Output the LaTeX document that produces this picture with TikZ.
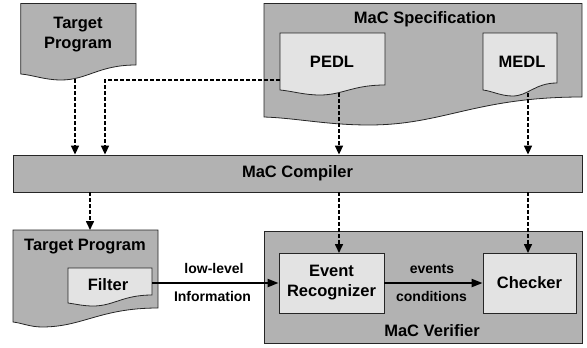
\documentclass[tikz,border=0pt]{standalone}
\usepackage{fontspec}
\setmainfont{Liberation Sans}
\usetikzlibrary{arrows.meta,calc}
\definecolor{outergray}{gray}{0.70}
\definecolor{innergray}{gray}{0.89}
\newcommand{\docpath}[8]{%
 \pgfmathsetmacro{\dpx}{#2+#7*(#4-#2)}%
 \pgfmathsetmacro{\dpy}{#5+#8}%
 \path[#1] (#2,#3) -- (#4,#3) -- (#4,#6)
   .. controls ({\dpx+0.5*(#4-\dpx)},#6) and ({\dpx+0.35*(#4-\dpx)},\dpy) .. (\dpx,\dpy)
   .. controls ({\dpx-0.4*(\dpx-#2)},\dpy) and ({#2+0.3*(\dpx-#2)},{#5+1}) .. (#2,#5) -- cycle;%
}
\tikzset{
 outer/.style={fill=outergray, draw=black!85, line width=0.8pt},
 inner/.style={fill=innergray, draw=black!85, line width=0.8pt},
 lbl/.style={font=\fontsize{16.5}{20}\selectfont\bfseries, align=center, inner sep=0pt},
 small/.style={font=\fontsize{14}{16}\selectfont\bfseries, inner sep=0pt},
 darr/.style={dash pattern=on 4pt off 2pt, line width=1.6pt, -{Triangle[length=9pt,width=8pt]}},
 sarr/.style={line width=2pt, -{Triangle[length=11pt,width=8pt]}},
}
\begin{document}
\begin{tikzpicture}[x=1pt,y=-1pt]
\useasboundingbox (0,0) rectangle (587,348);
% top target program
\docpath{outer}{20.7}{3.5}{136}{74}{65}{0.35}{6}
\node[lbl] (tp1) at (78,35) {Target\\Program};
\coordinate (tp1B) at (75,79);
% specification
\docpath{outer}{264}{3.5}{582}{117}{97}{0.33}{8}
\node[lbl] (spec) at (425,19) {MaC Specification};
\docpath{inner}{280}{33}{385}{90}{85}{0.38}{5}
\node[lbl] (pedl) at (332,62) {PEDL};
\docpath{inner}{483}{33}{557}{90}{83}{0.4}{6}
\node[lbl] (medl) at (522,62) {MEDL};
\coordinate (pedlL) at (280,80);
\coordinate (pedlB) at (339,93);
\coordinate (medlB) at (528,93);
\coordinate (bend) at (105,80);
% compiler
\node[outer, minimum width=569pt, minimum height=37pt, inner sep=0pt, lbl] (comp) at (297.5,173.5) {MaC Compiler};
% bottom target program
\docpath{outer}{13}{230}{158}{322}{308}{0.2}{5}
\node[lbl] (tp2) at (85,247) {Target Program};
\coordinate (tp2T) at (90,230);
\docpath{inner}{68}{268}{152}{303}{295}{0.3}{3}
\node[lbl] (filt) at (108,285) {Filter};
\coordinate (filtR) at (152,283);
% verifier
\node[outer, minimum width=318pt, minimum height=112pt, inner sep=0pt] (ver) at (423,287) {};
\node[lbl] (verl) at (432,331) {MaC Verifier};
\node[inner, minimum width=105pt, minimum height=60pt, lbl] (er) at (331.5,283) {Event\\Recognizer};
\node[inner, minimum width=93pt, minimum height=60pt, lbl] (chk) at (529.5,283) {Checker};
\coordinate (erT) at (339,253);
\coordinate (chkT) at (528,253);
% arrows
\draw[darr] (tp1B) -- (tp1B |- comp.north);
\draw[darr] (pedlL) -- (bend) -- (bend |- comp.north);
\draw[darr] (pedlB) -- (pedlB |- comp.north);
\draw[darr] (medlB) -- (medlB |- comp.north);
\draw[darr] (tp2T |- comp.south) -- (tp2T);
\draw[darr] (erT |- comp.south) -- (erT);
\draw[darr] (chkT |- comp.south) -- (chkT);
\draw[sarr] (filtR) -- (er.west);
\draw[sarr] (er.east) -- (chk.west);
\node[small] (ll) at (214,268.5) {low-level};
\node[small] (inf) at (212.5,296) {Information};
\node[small] (ev) at (432,269) {events};
\node[small] (cond) at (431.5,296) {conditions};
\end{tikzpicture}
\end{document}
